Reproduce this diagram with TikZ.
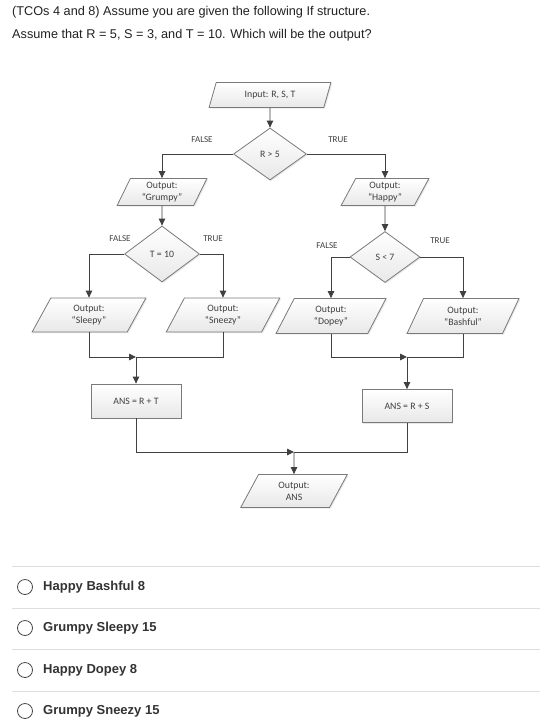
\documentclass[tikz,border=0pt]{standalone}
\usepackage{fontspec}
\setmainfont{Liberation Sans}
\newfontfamily\fc{Carlito}
\usetikzlibrary{shapes.geometric,arrows.meta,shadows}
\definecolor{ink}{HTML}{222222}
\definecolor{optink}{HTML}{333333}
\definecolor{fl}{HTML}{404040}
\definecolor{bd}{HTML}{7A7A7A}
\definecolor{sepc}{HTML}{DDDDDD}
\tikzset{
 base/.style={draw=bd, line width=0.8pt, top color=white, bottom color=black!9,
   drop shadow={opacity=0.18,shadow xshift=1.2pt,shadow yshift=-1.2pt},
   font=\fc\fontsize{9.8}{12}\selectfont, text=fl, align=center, inner sep=0pt},
 io/.style={base, trapezium, trapezium left angle=67, trapezium right angle=113, trapezium stretches=true},
 dec/.style={base, diamond},
 proc/.style={base, rectangle},
 lbl/.style={font=\fc\fontsize{9}{10}\selectfont, text=fl, inner sep=0pt},
 conn/.style={draw=fl, line width=0.9pt},
 arr/.style={conn, -{Triangle[width=6.5pt,length=7pt]}},
 title/.style={anchor=base west, font=\fontsize{12.7}{14}\selectfont, text=ink, inner sep=0pt},
 opt/.style={anchor=west, font=\bfseries\fontsize{13}{15}\selectfont, text=optink, inner sep=0pt},
 radio/.style={circle, draw=optink!90, line width=0.8pt, minimum size=15pt, inner sep=0pt},
 sepline/.style={draw=sepc, line width=1pt},
}
\begin{document}
\begin{tikzpicture}[x=1pt,y=-1pt]
\useasboundingbox (0,0) rectangle (540,726);
\fill[white] (0,0) rectangle (540,726);
% title
\node[title] (t1) at (12,15) {(TCOs 4 and 8) Assume you are given the following If structure.};
\node[title] (t2) at (12,38) {Assume that R = 5, S = 3, and T = 10. Which will be the output?};
% flowchart nodes
\node[io, minimum width=122pt, minimum height=25pt] (in) at (270,95) {Input: R, S, T};
\node[dec, minimum width=73pt, minimum height=52pt] (d1) at (270,154) {R > 5};
\node[lbl] (f1) at (202,140) {FALSE};
\node[lbl] (tr1) at (338,140) {TRUE};
\node[io, minimum width=90pt, minimum height=27pt] (grumpy) at (162,192) {Output:\\“Grumpy”};
\node[io, minimum width=88pt, minimum height=27pt] (happy) at (385,192) {Output:\\“Happy”};
\node[dec, minimum width=75pt, minimum height=56pt] (d2) at (162,254) {T = 10};
\node[lbl] (f2) at (120,239) {FALSE};
\node[lbl] (tr2) at (213,239) {TRUE};
\node[dec, minimum width=70pt, minimum height=51pt] (d3) at (385,257) {S < 7};
\node[lbl] (f3) at (327,246) {FALSE};
\node[lbl] (tr3) at (440,241) {TRUE};
\node[io, minimum width=114pt, minimum height=34pt] (sleepy) at (89,315) {Output:\\“Sleepy”};
\node[io, minimum width=114pt, minimum height=34pt] (sneezy) at (223,315) {Output:\\“Sneezy”};
\node[io, minimum width=110pt, minimum height=35pt] (dopey) at (331,316) {Output:\\“Dopey”};
\node[io, minimum width=112pt, minimum height=35pt] (bashful) at (463,316) {Output:\\“Bashful”};
\node[proc, minimum width=90pt, minimum height=34pt] (rt) at (136,401) {ANS = R + T};
\node[proc, minimum width=90pt, minimum height=33pt] (rs) at (407,406) {ANS = R + S};
\node[io, minimum width=107pt, minimum height=33pt] (out) at (294,491) {Output:\\ANS};
\coordinate (j1) at (136,357);
\coordinate (j2) at (407,357);
\coordinate (j3) at (294,452);
% connectors
\draw[arr] (in.south) -- (d1.north);
\draw[arr] (d1.west) -| (grumpy.north);
\draw[arr] (d1.east) -| (happy.north);
\draw[arr] (grumpy.south) -- (d2.north);
\draw[arr] (happy.south) -- (d3.north);
\draw[arr] (d2.west) -| (sleepy.north);
\draw[arr] (d2.east) -| (sneezy.north);
\draw[arr] (d3.west) -| (dopey.north);
\draw[arr] (d3.east) -| (bashful.north);
\draw[conn] (sneezy.south) |- (j1);
\draw[arr] (sleepy.south) |- (j1);
\draw[arr] (j1) -- (rt.north);
\draw[conn] (bashful.south) |- (j2);
\draw[arr] (dopey.south) |- (j2);
\draw[arr] (j2) -- (rs.north);
\draw[conn] (rs.south) |- (j3);
\draw[arr] (rt.south) |- (j3);
\draw[arr] (j3) -- (out.north);
% answer options
\draw[sepline] (12,566) -- (540,566);
\draw[sepline] (12,608) -- (540,608);
\draw[sepline] (12,649) -- (540,649);
\draw[sepline] (12,691) -- (540,691);
\node[radio] (r1) at (25,587) {};
\node[radio] (r2) at (25,628) {};
\node[radio] (r3) at (25,670) {};
\node[radio] (r4) at (25,711) {};
\node[opt] (o1) at (43,587) {Happy Bashful 8};
\node[opt] (o2) at (43,628) {Grumpy Sleepy 15};
\node[opt] (o3) at (43,670) {Happy Dopey 8};
\node[opt] (o4) at (43,711) {Grumpy Sneezy 15};
\end{tikzpicture}
\end{document}
